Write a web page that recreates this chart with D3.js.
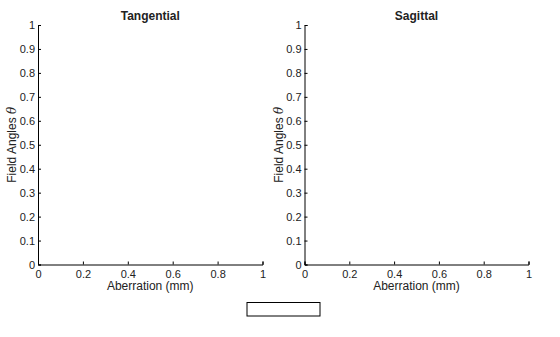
<!DOCTYPE html>
<html><head><meta charset="utf-8">
<script src="https://cdn.jsdelivr.net/npm/d3@7"></script>
<style>body{margin:0;background:#fff}svg{display:block}text{font-family:"Liberation Sans",Arial,sans-serif}</style>
</head><body>
<svg id="c" width="560" height="337"></svg>
<script>
const panelTitles = ["Tangential", "Sagittal"];
const xDomain = [0, 1];
const yDomain = [0, 1];
const xTicks = [0, 0.2, 0.4, 0.6, 0.8, 1];
const yTicks = [0, 0.1, 0.2, 0.3, 0.4, 0.5, 0.6, 0.7, 0.8, 0.9, 1];
const xLabel = "Aberration (mm)";
const yLabel = "Field Angles ";
const legendEntries = [];

const svg = d3.select("#c");
const panels = [{x0: 38, x1: 262.5}, {x0: 304.5, x1: 528.5}];
const yTop = 25, yBot = 264.5;
const fmt = d => d === 0 || d === 1 ? String(d) : d3.format(".1f")(d);

panels.forEach((p, i) => {
  const x = d3.scaleLinear().domain(xDomain).range([p.x0, p.x1]);
  const y = d3.scaleLinear().domain(yDomain).range([yBot, yTop]);
  const g = svg.append("g");
  const xa = g.append("g").attr("transform", `translate(0,${yBot})`)
    .call(d3.axisBottom(x).tickValues(xTicks).tickSize(-3).tickPadding(5.5).tickFormat(fmt));
  const ya = g.append("g").attr("transform", `translate(${p.x0},0)`)
    .call(d3.axisLeft(y).tickValues(yTicks).tickSize(-3).tickPadding(3).tickFormat(fmt));
  [xa, ya].forEach(a => {
    a.select(".domain").attr("stroke", "#000").attr("stroke-width", 1);
    a.selectAll(".tick line").attr("stroke", "#000");
    a.selectAll("text").attr("font-size", 11).attr("fill", "#222")
      .attr("font-family", '"Liberation Sans",Arial,sans-serif');
  });
  g.append("text").attr("x", (p.x0 + p.x1) / 2).attr("y", 20)
    .attr("text-anchor", "middle").attr("font-size", 12).attr("font-weight", "bold")
    .attr("fill", "#222").text(panelTitles[i]);
  g.append("text").attr("x", (p.x0 + p.x1) / 2).attr("y", 289.5)
    .attr("text-anchor", "middle").attr("font-size", 12).attr("fill", "#222").text(xLabel);
  const yl = g.append("text")
    .attr("transform", `translate(${p.x0 - 22},${(yTop + yBot) / 2}) rotate(-90)`)
    .attr("text-anchor", "middle").attr("font-size", 12).attr("fill", "#222");
  yl.append("tspan").text(yLabel);
  yl.append("tspan").attr("font-style", "italic").attr("font-family", '"DejaVu Serif",serif').text("θ");
});

svg.append("rect").attr("x", 247).attr("y", 302.5).attr("width", 73).attr("height", 13.5)
  .attr("fill", "#fff").attr("stroke", "#000").attr("stroke-width", 1);
</script>
</body></html>
